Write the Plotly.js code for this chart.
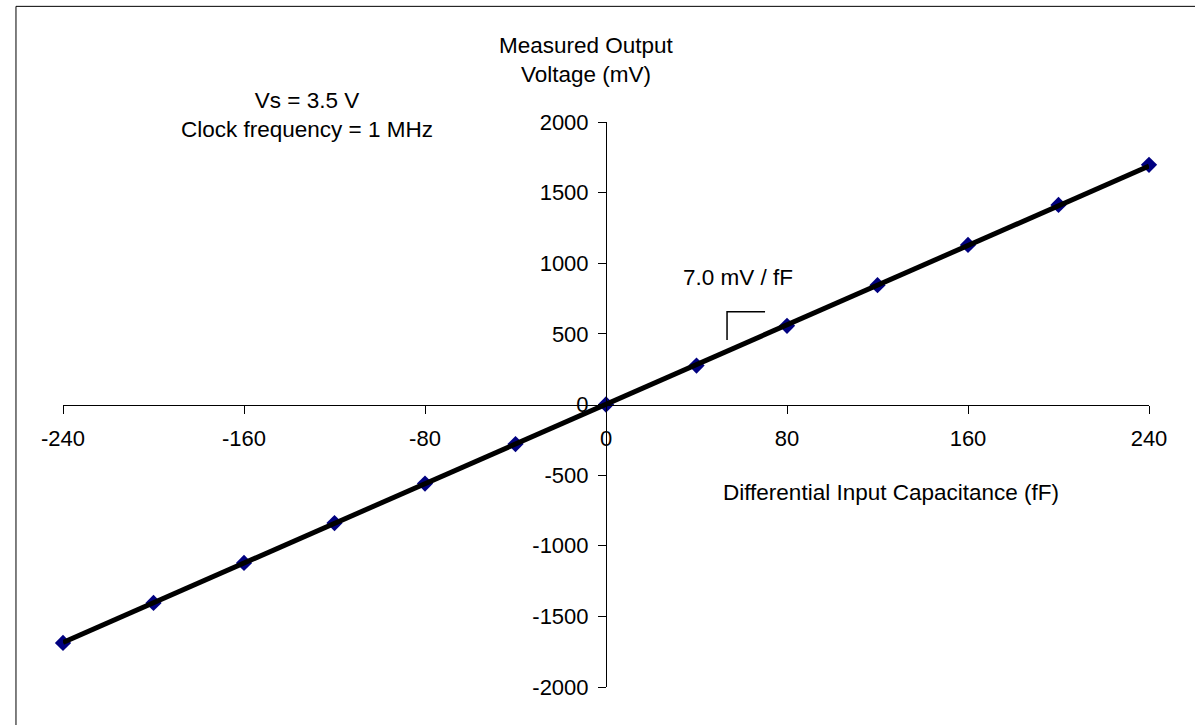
<!DOCTYPE html>
<html>
<head>
<meta charset="utf-8">
<script src="https://cdn.plot.ly/plotly-3.0.1.min.js"></script>
<style>
  html, body { margin: 0; padding: 0; background: #fff; }
  #chart { width: 1195px; height: 725px; }
</style>
</head>
<body>
<div id="chart"></div>
<script>
// Measured data
const capacitance = [-240, -200, -160, -120, -80, -40, 0, 40, 80, 120, 160, 200, 240];
const voltage = [-1688, -1405, -1122, -839, -560, -280, 0, 276, 557, 845, 1130, 1413, 1697];

// Linear fit (7.0 mV / fF)
const fitCapacitance = [-240, 240];
const fitVoltage = [-1685, 1688];

// Tick labels
const xTickVals = [-240, -160, -80, 0, 80, 160, 240];
const xTickText = ['-240', '-160', '-80', '0', '80', '160', '240'];
const yTickVals = [-2000, -1500, -1000, -500, 0, 500, 1000, 1500, 2000];
const yTickText = ['-2000', '-1500', '-1000', '-500', '0', '500', '1000', '1500', '2000'];

const FONT = 'Liberation Sans, Arial, sans-serif';

const traces = [
  {
    x: capacitance, y: voltage,
    type: 'scatter', mode: 'markers',
    marker: { symbol: 'diamond', size: 12.5, color: '#000080', line: { width: 0 } },
    cliponaxis: false, showlegend: false, hoverinfo: 'skip'
  },
  {
    x: fitCapacitance, y: fitVoltage,
    type: 'scatter', mode: 'lines',
    line: { color: '#000000', width: 5 },
    cliponaxis: false, showlegend: false, hoverinfo: 'skip'
  }
];

const axisCommon = {
  showgrid: false, zeroline: false, showline: true,
  linecolor: '#000000', linewidth: 1,
  ticks: 'outside', ticklen: 8, tickcolor: '#000000', tickwidth: 1,
  tickfont: { family: FONT, size: 22, color: '#000000' },
  anchor: 'free', position: 0.5, fixedrange: true
};

const layout = {
  width: 1195, height: 725,
  margin: { l: 63, r: 46, t: 122, b: 38, pad: 0 },
  paper_bgcolor: '#ffffff', plot_bgcolor: '#ffffff',
  font: { family: FONT, size: 22, color: '#000000' },
  showlegend: false,
  xaxis: Object.assign({}, axisCommon, {
    range: [-240, 240], tickmode: 'array', tickvals: xTickVals, ticktext: xTickText,
    ticklabelstandoff: 6
  }),
  yaxis: Object.assign({}, axisCommon, {
    range: [-2000, 2000], tickmode: 'array', tickvals: yTickVals, ticktext: yTickText,
    ticklabelstandoff: 5
  }),
  annotations: [
    { text: 'Measured Output<br>Voltage (mV)', xref: 'paper', yref: 'paper',
      x: 0.4816, y: 1.1089, xanchor: 'center', yanchor: 'middle', showarrow: false,
      font: { family: FONT, size: 22.5, color: '#000' } },
    { text: 'Vs = 3.5 V<br>Clock frequency = 1 MHz', xref: 'paper', yref: 'paper',
      x: 0.2247, y: 1.0124, xanchor: 'center', yanchor: 'middle', showarrow: false,
      font: { family: FONT, size: 22.5, color: '#000' } },
    { text: 'Differential Input Capacitance (fF)', xref: 'paper', yref: 'paper',
      x: 0.762, y: 0.3451, xanchor: 'center', yanchor: 'middle', showarrow: false,
      font: { family: FONT, size: 22.5, color: '#000' } },
    { text: '7.0 mV / fF', xref: 'paper', yref: 'paper',
      x: 0.6215, y: 0.7239, xanchor: 'center', yanchor: 'middle', showarrow: false,
      font: { family: FONT, size: 22.5, color: '#000' } }
  ],
  shapes: [
    { type: 'path', xref: 'x', yref: 'y', path: 'M 53.5,457 L 53.5,657 L 70.3,657',
      line: { color: '#000000', width: 1.5 } },
    { type: 'rect', xref: 'paper', yref: 'paper',
      x0: -0.0433, x1: 1.05, y0: -0.08, y1: 1.2047,
      line: { color: '#000000', width: 1 }, layer: 'below' }
  ]
};

Plotly.newPlot('chart', traces, layout, { displayModeBar: false, staticPlot: true });
</script>
</body>
</html>
